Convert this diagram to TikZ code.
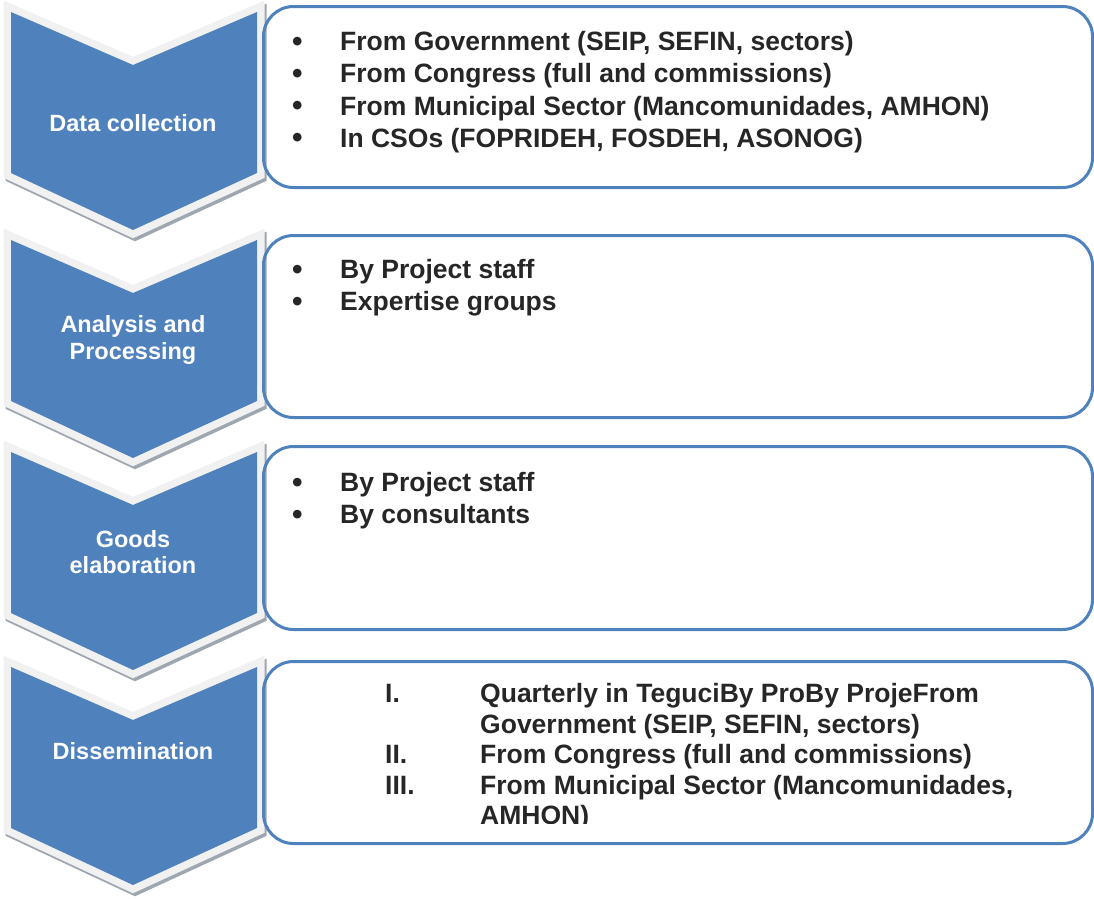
\documentclass[tikz,border=0pt]{standalone}
\usepackage{fontspec}
\setmainfont{Liberation Sans}
\usetikzlibrary{positioning}

\definecolor{chevblue}{RGB}{79,129,189}
\definecolor{bevelgray}{RGB}{241,241,241}
\definecolor{shadegray}{RGB}{158,166,176}
\definecolor{itemgray}{RGB}{38,38,38}

\tikzset{
  chevshade/.style={draw=shadegray,fill=shadegray,line width=15pt,miter limit=10},
  chevbevel/.style={draw=bevelgray,fill=bevelgray,line width=15pt,miter limit=10},
  chevlabel/.style={text=white,font=\fontsize{23.5}{26.5}\selectfont\bfseries,align=center,inner sep=0pt},
  listbox/.style={draw=chevblue,line width=3pt,rounded corners=30pt,minimum width=829pt,anchor=north west,inner sep=0pt},
  listtext/.style={text=itemgray,font=\fontsize{26.5}{32.3}\selectfont\bfseries,inner sep=0pt,anchor=base west},
}
\newcommand{\itembullet}{\raisebox{-0.5pt}{\fontsize{30}{30}\selectfont\textbullet}}

\begin{document}
\begin{tikzpicture}[x=1pt,y=-1pt,line join=miter]
\useasboundingbox (0,0) rectangle (1094,898);

% the four chevrons, each with a bevel and a drop shadow
\foreach \ytop in {12,240,452,667}{
  \draw[chevshade,shift={(2,3)}] (11,\ytop) -- (133,\ytop+53) -- (257,\ytop) -- (257,\ytop+161) -- (133,\ytop+218) -- (11,\ytop+161) -- cycle;
  \draw[chevbevel] (11,\ytop) -- (133,\ytop+53) -- (257,\ytop) -- (257,\ytop+161) -- (133,\ytop+218) -- (11,\ytop+161) -- cycle;
  \fill[chevblue] (11,\ytop) -- (133,\ytop+53) -- (257,\ytop) -- (257,\ytop+161) -- (133,\ytop+218) -- (11,\ytop+161) -- cycle;
}
\node[chevlabel] (collect) at (133,123) {Data collection};
\node[chevlabel] (analysis) at (133,340) {Analysis and\\Processing};
\node[chevlabel] (goods) at (133,552) {Goods\\elaboration};
\node[chevlabel] (dissem) at (133,751) {Dissemination};

\node[listbox,minimum height=181pt] (box1) at (262,5) {};
\node[listbox,minimum height=182pt] (box2) at (262,234) {};
\node[listbox,minimum height=183pt] (box3) at (262,445) {};
\node[listbox,minimum height=182pt] (box4) at (262,660) {};

\node[listtext] (list1) at (292,50.5) {\begin{tabular}[t]{@{}p{48pt}@{}l@{}}
\itembullet & From Government (SEIP, SEFIN, sectors)\\
\itembullet & From Congress (full and commissions)\\
\itembullet & From Municipal Sector (Mancomunidades, AMHON)\\
\itembullet & In CSOs (FOPRIDEH, FOSDEH, ASONOG)
\end{tabular}};
\node[listtext] (list2) at (292,278.5) {\begin{tabular}[t]{@{}p{48pt}@{}l@{}}
\itembullet & By Project staff\\
\itembullet & Expertise groups
\end{tabular}};
\node[listtext] (list3) at (292,491.5) {\begin{tabular}[t]{@{}p{48pt}@{}l@{}}
\itembullet & By Project staff\\
\itembullet & By consultants
\end{tabular}};
% last list runs past the bottom of its box and gets cut
\begin{scope}
\clip (262,660) rectangle (1091,823);
\node[listtext,font=\fontsize{26.5}{30.5}\selectfont\bfseries] (list4) at (385,702.5) {\begin{tabular}[t]{@{}p{95pt}@{}l@{}}
I. & Quarterly in TeguciBy ProBy ProjeFrom\\
 & Government (SEIP, SEFIN, sectors)\\
II. & From Congress (full and commissions)\\
III. & From Municipal Sector (Mancomunidades,\\
 & AMHON)
\end{tabular}};
\end{scope}
\end{tikzpicture}
\end{document}
